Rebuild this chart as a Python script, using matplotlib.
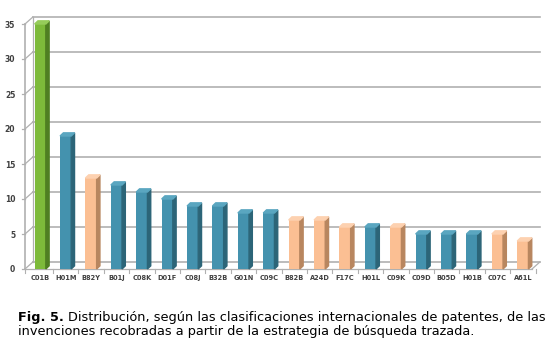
import numpy as np
import matplotlib
matplotlib.use("Agg")
import matplotlib.pyplot as plt
from matplotlib.patches import Polygon

# clasificaciones internacionales de patentes
codes = ["C01B", "H01M", "B82Y", "B01J", "C08K", "D01F", "C08J", "B32B", "G01N", "C09C",
         "B82B", "A24D", "F17C", "H01L", "C09K", "C09D", "B05D", "H01B", "C07C", "A61L"]
counts = [35, 19, 13, 12, 11, 10, 9, 9, 8, 8, 7, 7, 6, 6, 6, 5, 5, 5, 5, 4]
groups = ["g", "b", "p", "b", "b", "b", "b", "b", "b", "b",
          "p", "p", "p", "b", "p", "b", "b", "b", "p", "p"]
y_ticks = [0, 5, 10, 15, 20, 25, 30, 35]

front = {"g": "#7dba3a", "b": "#4492ae", "p": "#fbbf93"}
side = {"g": "#4f7f22", "b": "#2c6578", "p": "#b8865f"}
top = {"g": "#96cc5a", "b": "#5aa6c0", "p": "#fdd1b0"}

fig = plt.figure(figsize=(5.51, 3.58), dpi=100)
ax = fig.add_axes([25 / 551, 1 - 269 / 358, 507 / 551, 245 / 358])

xmin, xmax = -0.6, 19.36
ymax = 35
dx, dy = 0.31, 1.0        # depth of the back wall
bdx, bdy = 0.13, 0.45     # depth of the bars
w = 0.44
grid_c = "#b0b0b0"

# back wall grid, floor and left wall
for v in y_ticks:
    ax.plot([xmin + dx, xmax + dx], [v + dy, v + dy], color=grid_c, lw=1.2, clip_on=False, zorder=1)
    ax.plot([xmin, xmin + dx], [v, v + dy], color=grid_c, lw=0.9, clip_on=False, zorder=1)
    ax.plot([xmin - 0.1, xmin], [v, v], color=grid_c, lw=0.9, clip_on=False, zorder=1)
ax.plot([xmin + dx, xmin + dx], [dy, ymax + dy], color=grid_c, lw=0.9, clip_on=False, zorder=1)
ax.plot([xmin, xmin], [0, ymax], color=grid_c, lw=1.2, clip_on=False, zorder=1)
ax.plot([xmin, xmax], [0, 0], color=grid_c, lw=0.9, clip_on=False, zorder=1)
ax.plot([xmax, xmax + dx], [0, dy], color=grid_c, lw=0.9, clip_on=False, zorder=1)
for i in range(len(codes) + 1):
    xb = i - 0.5 if i > 0 else xmin
    ax.plot([xb, xb], [0, -0.5], color=grid_c, lw=0.8, clip_on=False, zorder=1)

# 3d bars
x = np.arange(len(codes))
ax.bar(x, counts, width=w, color=[front[g] for g in groups], zorder=3)
for xi, c, g in zip(x, counts, groups):
    r = xi + w / 2
    l = xi - w / 2
    ax.add_patch(Polygon([(r, 0), (r + bdx, bdy), (r + bdx, c + bdy), (r, c)],
                         closed=True, color=side[g], zorder=3, clip_on=False))
    ax.add_patch(Polygon([(l, c), (l + bdx, c + bdy), (r + bdx, c + bdy), (r, c)],
                         closed=True, color=top[g], zorder=3, clip_on=False))

ax.set_xlim(xmin, xmax)
ax.set_ylim(0, ymax)
ax.set_yticks(y_ticks)
ax.set_yticklabels([str(v) for v in y_ticks], fontsize=5.5, color="#404040", fontweight="bold")
ax.set_xticks(x)
ax.set_xticklabels(codes, fontsize=4.8, color="#404040", fontweight="bold")
ax.tick_params(length=0, pad=4)
ax.tick_params(axis="y", pad=7)
for s in ax.spines.values():
    s.set_visible(False)

# caption
fs = 9.3
t1 = fig.text(18 / 551, 1 - 317 / 358, "Fig. 5.", fontsize=fs, fontweight="bold", va="center")
fig.canvas.draw()
bb = t1.get_window_extent()
fig.text((bb.x1 + 4) / 551, 1 - 317 / 358,
         "Distribución, según las clasificaciones internacionales de patentes, de las",
         fontsize=fs, va="center")
fig.text(18 / 551, 1 - 331 / 358,
         "invenciones recobradas a partir de la estrategia de búsqueda trazada.",
         fontsize=fs, va="center")

fig.savefig("out.png", dpi=100)
